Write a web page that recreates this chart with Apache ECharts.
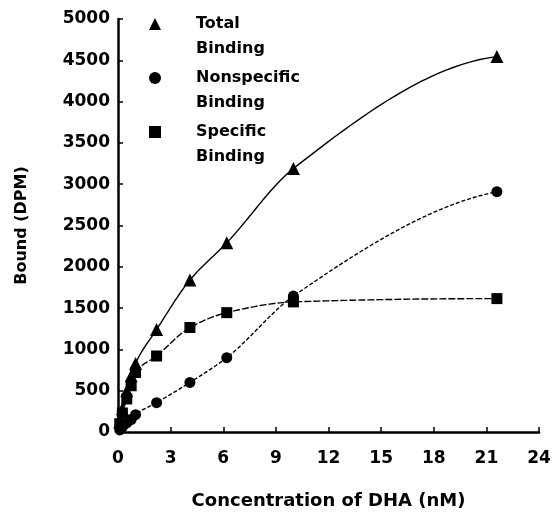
<!DOCTYPE html>
<html>
<head>
<meta charset="utf-8">
<script src="https://cdn.jsdelivr.net/npm/echarts@6/dist/echarts.min.js"></script>
<style>
html,body{margin:0;padding:0;background:#fff;}
#chart{width:555px;height:516px;}
</style>
</head>
<body>
<div id="chart"></div>
<script>
// Concentration of DHA (nM)
var concentration = [0.1, 0.25, 0.5, 0.75, 1.0, 2.2, 4.1, 6.2, 10, 21.6];
var totalBinding = [120, 280, 500, 680, 830, 1240, 1840, 2290, 3190, 4545];
var nonspecificBinding = [25, 60, 110, 150, 210, 355, 600, 900, 1645, 2910];
var specificBinding = [100, 230, 400, 560, 720, 920, 1265, 1445, 1575, 1615];
var seriesNames = ['Total Binding', 'Nonspecific Binding', 'Specific Binding'];
var xTicks = [0, 3, 6, 9, 12, 15, 18, 21, 24];
var yTicks = [0, 500, 1000, 1500, 2000, 2500, 3000, 3500, 4000, 4500, 5000];

function pairs(xs, ys) { return xs.map(function (x, i) { return [x, ys[i]]; }); }

// monotone cubic Hermite tangents (Fritsch-Butland) for a smooth drawn curve
function tangents(xs, ys) {
  var n = xs.length, h = [], d = [], m = new Array(n);
  for (var k = 0; k < n - 1; k++) { h[k] = xs[k + 1] - xs[k]; d[k] = (ys[k + 1] - ys[k]) / h[k]; }
  for (k = 1; k < n - 1; k++) {
    if (d[k - 1] * d[k] <= 0) m[k] = 0;
    else m[k] = 3 * (h[k - 1] + h[k]) / ((2 * h[k] + h[k - 1]) / d[k - 1] + (h[k] + 2 * h[k - 1]) / d[k]);
  }
  function endT(h0, h1, d0, d1) {
    var t = ((2 * h0 + h1) * d0 - h0 * d1) / (h0 + h1);
    if (t * d0 <= 0) return 0;
    if (d0 * d1 <= 0 && Math.abs(t) > Math.abs(3 * d0)) return 3 * d0;
    return t;
  }
  m[0] = endT(h[0], h[1], d[0], d[1]);
  m[n - 1] = endT(h[n - 2], h[n - 3], d[n - 2], d[n - 3]);
  return m;
}

function curvePoints(api, xs, ys) {
  var m = tangents(xs, ys), pts = [];
  for (var k = 0; k < xs.length - 1; k++) {
    var h = xs[k + 1] - xs[k], steps = 24;
    for (var s = 0; s <= steps; s++) {
      if (k > 0 && s === 0) continue;
      var t = s / steps, t2 = t * t, t3 = t2 * t;
      var y = (2 * t3 - 3 * t2 + 1) * ys[k] + (t3 - 2 * t2 + t) * h * m[k] +
              (-2 * t3 + 3 * t2) * ys[k + 1] + (t3 - t2) * h * m[k + 1];
      pts.push(api.coord([xs[k] + t * h, y]));
    }
  }
  return pts;
}

var FONT = 'DejaVu Sans';
var chart = echarts.init(document.getElementById('chart'), null, {renderer: 'canvas'});

function curveSeries(ys, dash) {
  return {
    type: 'custom',
    data: pairs(concentration, ys),
    silent: true,
    z: 2,
    renderItem: function (params, api) {
      if (params.dataIndex !== 0) return null;
      return {
        type: 'polyline',
        shape: {points: curvePoints(api, concentration, ys)},
        style: {stroke: '#000', lineWidth: 1.4, fill: null, lineDash: dash}
      };
    }
  };
}

function markSeries(name, ys, symbol, size) {
  return {
    name: name,
    type: 'scatter',
    data: pairs(concentration, ys),
    symbol: symbol,
    symbolSize: size,
    itemStyle: {color: '#000', opacity: 1},
    z: 3
  };
}

chart.setOption({
  backgroundColor: '#fff',
  animation: false,
  grid: {left: 118, right: 16, top: 19, bottom: 84, containLabel: false},
  legend: {
    orient: 'vertical',
    left: 149,
    top: -13.5,
    padding: 0,
    itemWidth: 12,
    itemHeight: 12,
    itemGap: -21,
    selectedMode: false,
    data: [
      {name: seriesNames[0], icon: 'triangle'},
      {name: seriesNames[1], icon: 'circle'},
      {name: seriesNames[2], icon: 'rect'}
    ],
    formatter: function (n) { return '\n' + n.replace(' ', '\n'); },
    textStyle: {
      fontFamily: FONT, fontWeight: 'bold', fontSize: 16, color: '#000',
      lineHeight: 25, padding: [0, 0, 0, 30]
    }
  },
  xAxis: {
    type: 'value',
    min: 0, max: 24, interval: 3,
    name: 'Concentration of DHA (nM)',
    nameLocation: 'middle',
    nameGap: 60,
    nameTextStyle: {fontFamily: FONT, fontWeight: 'bold', fontSize: 18, color: '#000'},
    axisLine: {show: true, lineStyle: {color: '#000', width: 2.5}},
    axisTick: {show: true, inside: true, length: 5, lineStyle: {color: '#000', width: 1.5}},
    axisLabel: {
      margin: 18, fontFamily: FONT, fontWeight: 'bold', fontSize: 17, color: '#000',
      formatter: function (v) { return xTicks.indexOf(v) >= 0 ? String(v) : ''; }
    },
    splitLine: {show: false}
  },
  yAxis: {
    type: 'value',
    min: 0, max: 5000, interval: 500,
    name: 'Bound (DPM)',
    nameLocation: 'middle',
    nameGap: 88,
    nameRotate: 90,
    nameTextStyle: {fontFamily: FONT, fontWeight: 'bold', fontSize: 16, color: '#000'},
    axisLine: {show: true, lineStyle: {color: '#000', width: 2.5}},
    axisTick: {show: true, inside: true, length: 5, lineStyle: {color: '#000', width: 1.5}},
    axisLabel: {
      margin: 8, fontFamily: FONT, fontWeight: 'bold', fontSize: 17, color: '#000',
      formatter: function (v) { return yTicks.indexOf(v) >= 0 ? String(v) : ''; }
    },
    splitLine: {show: false}
  },
  series: [
    curveSeries(totalBinding, null),
    curveSeries(nonspecificBinding, [4, 2]),
    curveSeries(specificBinding, [7, 2]),
    markSeries(seriesNames[0], totalBinding, 'triangle', 13),
    markSeries(seriesNames[1], nonspecificBinding, 'circle', 11),
    markSeries(seriesNames[2], specificBinding, 'rect', 11)
  ]
});
</script>
</body>
</html>
